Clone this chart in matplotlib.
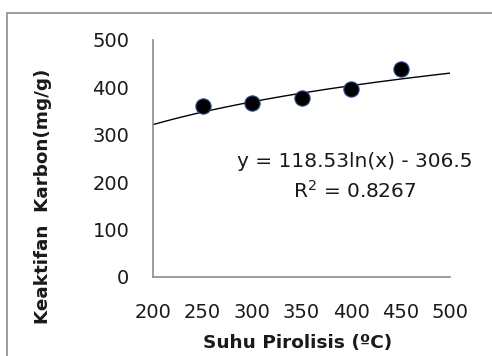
import numpy as np
import matplotlib
matplotlib.use("Agg")
import matplotlib.pyplot as plt
from matplotlib.patches import Rectangle

# data
suhu = [250, 300, 350, 400, 450]
keaktifan = [360, 368, 377, 396, 438]

# trendline shown on the chart: y = a ln(x) + b
a_coef = 118.53
b_coef = -306.5
r2 = 0.8267

plt.rcParams['font.family'] = ['DejaVu Sans']

fig = plt.figure(figsize=(4.92, 3.56), dpi=100)
ax = fig.add_axes([153 / 492, 1 - 277 / 356, (450 - 153) / 492, (277 - 40) / 356])

# chart area border
fig.patches.append(Rectangle((7 / 492, -0.05), 1.1, 1 - 13 / 356 + 0.05,
                             transform=fig.transFigure, fill=False,
                             edgecolor='#8c8c8c', linewidth=1.2))

xt = np.linspace(200, 500, 200)
ax.plot(xt, a_coef * np.log(xt) + b_coef, color='black', linewidth=1.0, zorder=2)
ax.plot(suhu, keaktifan, 'o', color='black', markeredgecolor='#2f4f8f',
        markeredgewidth=0.8, markersize=11, zorder=3)

ax.set_xlim(200, 500)
ax.set_ylim(0, 500)
ax.set_xticks(range(200, 501, 50))
ax.set_yticks(range(0, 501, 100))
ax.tick_params(axis='x', length=0, pad=19, labelsize=14, colors='#1a1a1a')
ax.tick_params(axis='y', length=0, pad=17, labelsize=14, colors='#1a1a1a')
for s in ['top', 'right']:
    ax.spines[s].set_visible(False)
for s in ['left', 'bottom']:
    ax.spines[s].set_color('#8c8c8c')
    ax.spines[s].set_linewidth(1.2)

ax.text(404, 243, 'y = 118.53ln(x) - 306.5', ha='center', va='center',
        fontsize=14.5, color='#1a1a1a')
ax.text(404, 181, 'R$^\\mathregular{2}$ = %.4f' % r2, ha='center', va='center',
        fontsize=14.5, color='#1a1a1a')

fig.text(298 / 492, 1 - 343 / 356, 'Suhu Pirolisis (ºC)', ha='center', va='center',
         fontsize=13.3, fontweight='bold', color='#1a1a1a')
fig.text(43 / 492, 1 - 196 / 356, 'Keaktifan  Karbon(mg/g)', ha='center', va='center',
         rotation=90, fontsize=13.2, fontweight='bold', color='#1a1a1a')

fig.savefig('out.png', dpi=100)
